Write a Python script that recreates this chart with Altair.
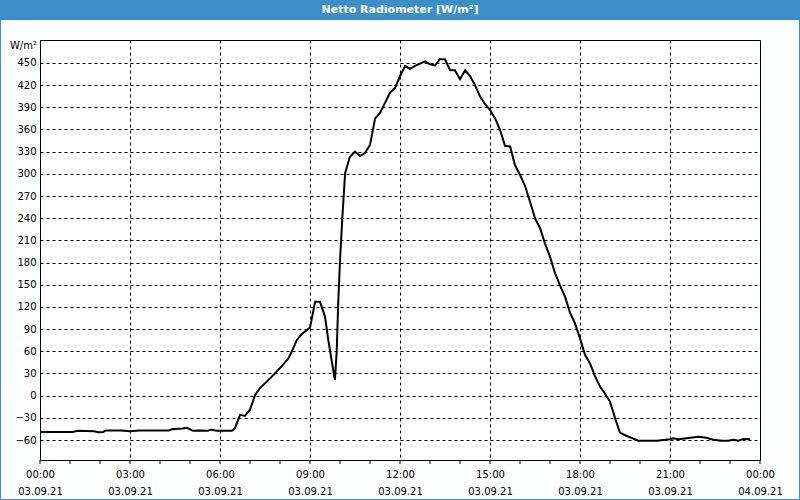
import altair as alt
import pandas as pd

# ---- data ----
hours = [0, 1.1, 1.25, 1.8, 1.95, 2.1, 2.2, 2.7, 3.0, 3.3, 4.3, 4.4, 4.75, 4.9, 5.1, 5.3,
         5.6, 5.7, 5.9, 6.4, 6.5, 6.6, 6.67, 6.83, 7.0, 7.17, 7.33, 7.61, 7.83, 8.06, 8.28,
         8.39, 8.56, 8.72, 9.0, 9.17, 9.33, 9.5, 9.61, 9.72, 9.83, 9.89, 9.94, 10.0, 10.08,
         10.17, 10.33, 10.5, 10.67, 10.83, 11.0, 11.17, 11.33, 11.5, 11.67, 11.83, 12.0,
         12.17, 12.33, 12.5, 12.67, 12.83, 13.0, 13.17, 13.33, 13.5, 13.67, 13.83, 14.0,
         14.17, 14.33, 14.5, 14.67, 14.83, 15.0, 15.17, 15.33, 15.5, 15.67, 15.83, 16.0,
         16.17, 16.33, 16.5, 16.67, 16.83, 17.0, 17.17, 17.33, 17.5, 17.67, 17.83, 18.0,
         18.17, 18.33, 18.5, 18.67, 18.83, 19.0, 19.17, 19.33, 19.56, 19.78, 19.94, 20.56,
         21.0, 21.11, 21.28, 21.56, 21.94, 22.22, 22.44, 22.72, 22.94, 23.11, 23.28, 23.44,
         23.67]
values = [-49, -49, -47.5, -48, -49.5, -49, -47, -47, -48, -47, -47, -45.5, -44.5, -43.5,
          -47.5, -47, -47.5, -46, -47.5, -47.5, -44, -33, -26, -27.5, -19, 1, 10, 21, 30,
          40, 50.5, 59.5, 75, 83, 92, 127, 127, 107, 75, 48, 21, 60, 125, 183, 242, 301,
          323, 330, 324, 328, 339, 375, 382, 396, 410, 416, 432, 446, 442, 446, 449, 452,
          448, 446.5, 455, 455, 440.5, 440, 428, 440, 432.5, 420, 404.5, 394.5, 386.5, 375,
          360, 338, 337, 312, 298.5, 283.5, 262.5, 240, 226.5, 206, 188, 165.5, 149.5, 134,
          112, 98, 77.5, 55, 44, 26.5, 12, 3, -8, -30.5, -50, -54.5, -58, -61, -61, -59,
          -57.5, -59, -57.5, -55.5, -57, -59.5, -61, -61, -59.5, -61, -58.5, -59]

tick_hours = [0, 3, 6, 9, 12, 15, 18, 21, 24]
tick_times = ["00:00", "03:00", "06:00", "09:00", "12:00", "15:00", "18:00", "21:00", "00:00"]
tick_dates = ["03.09.21"] * 8 + ["04.09.21"]
minor_hours = list(range(0, 25))
y_ticks = list(range(-60, 451, 30))

title_text = "Netto Radiometer [W/m²]"
unit_text = "W/m²"

FONT = "DejaVu Sans"
BLUE = "#3C8FC6"

df = pd.DataFrame({"hour": hours, "value": values})
minor_df = pd.DataFrame({"hour": minor_hours})
title_df = pd.DataFrame({"t": [title_text]})
unit_df = pd.DataFrame({"t": [unit_text]})

x_scale = alt.Scale(domain=[0, 24], nice=False, zero=False)
y_scale = alt.Scale(domain=[-87, 481], nice=False, zero=False)

pairs = ",".join(f"['{t}','{d}']" for t, d in zip(tick_times, tick_dates))
label_expr = f"[{pairs}][round(datum.value/3)]"

x_axis = alt.Axis(values=tick_hours, labelExpr=label_expr, title=None, grid=True,
                  gridDash=[3, 3], gridColor="black", gridOpacity=1, ticks=False,
                  domain=False, labelPadding=9, labelLineHeight=17, labelFont=FONT,
                  labelFontSize=10, labelColor="black", labelFlush=False,
                  labelOverlap=False)
y_axis = alt.Axis(values=y_ticks, title=None, grid=True, gridDash=[3, 3],
                  gridColor="black", gridOpacity=1, ticks=False, domain=False,
                  labelPadding=4, labelFont=FONT, labelFontSize=10, labelColor="black")

line = alt.Chart(df).mark_line(color="black", strokeWidth=2).encode(
    x=alt.X("hour:Q", scale=x_scale, axis=x_axis),
    y=alt.Y("value:Q", scale=y_scale, axis=y_axis),
)

minor_ticks = alt.Chart(minor_df).mark_rule(color="black", strokeWidth=1).encode(
    x=alt.X("hour:Q", scale=x_scale),
    y=alt.value(420),
    y2=alt.value(424),
)

title_bar = alt.Chart(title_df).mark_rect(color=BLUE).encode(
    x=alt.value(-40), x2=alt.value(760), y=alt.value(-40), y2=alt.value(-20)
)
title_label = alt.Chart(title_df).mark_text(
    color="white", font=FONT, fontSize=11, fontWeight="bold", align="center",
    baseline="middle"
).encode(x=alt.value(360), y=alt.value(-30), text="t:N")

border = alt.Chart(title_df).mark_rect(
    fillOpacity=0, stroke=BLUE, strokeWidth=1
).encode(x=alt.value(-39.5), x2=alt.value(759.5), y=alt.value(-40), y2=alt.value(459.5))

unit_label = alt.Chart(unit_df).mark_text(
    color="black", font=FONT, fontSize=10, align="right", baseline="middle"
).encode(x=alt.value(-3), y=alt.value(6), text="t:N")

chart = alt.layer(minor_ticks, line, title_bar, title_label, border, unit_label).properties(
    width=720, height=420,
    autosize=alt.AutoSizeParams(type="none"),
    padding={"left": 40, "top": 40, "right": 40, "bottom": 40},
    background="#FCFEFD",
).configure_view(stroke="black", strokeWidth=1, fill="white")

chart.save("out.html", embed_options={"renderer": "svg", "actions": False})
